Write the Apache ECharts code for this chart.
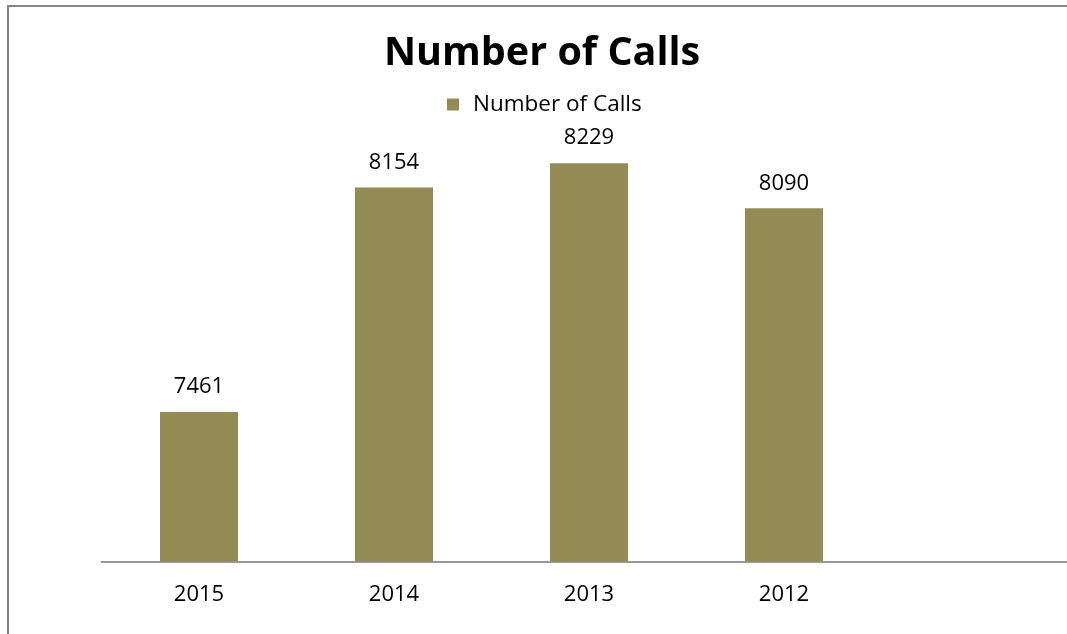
<!DOCTYPE html>
<html>
<head>
<meta charset="utf-8">
<script src="https://cdn.jsdelivr.net/npm/echarts@6/dist/echarts.min.js"></script>
<style>
html,body{margin:0;padding:0;background:#fff;overflow:hidden;}
#chart{width:1080px;height:634px;}
</style>
</head>
<body>
<div id="chart"></div>
<script>
const titleText = 'Number of Calls';
const seriesName = 'Number of Calls';
const categories = ['2015', '2014', '2013', '2012', ''];
const calls = [7461, 8154, 8229, 8090, null];
const yMin = 7000;
const yMax = 8400;

const chart = echarts.init(document.getElementById('chart'));
chart.setOption({
  animation: false,
  backgroundColor: '#ffffff',
  graphic: [{
    type: 'rect',
    shape: { x: 8, y: 6, width: 1200, height: 800 },
    style: { fill: 'none', stroke: '#868686', lineWidth: 2 },
    silent: true
  }],
  title: {
    text: titleText,
    left: 379,
    top: 29,
    textStyle: { fontFamily: 'Open Sans', fontWeight: 'bold', fontSize: 39.5, color: '#000' }
  },
  legend: {
    data: [seriesName],
    left: 447,
    top: 93,
    padding: 0,
    itemWidth: 12,
    itemHeight: 12,
    icon: 'rect',
    textStyle: { fontFamily: 'Open Sans', fontSize: 22.5, color: '#000', padding: [0, 0, 0, 9] }
  },
  grid: { left: 101.5, top: 107.8, width: 975, height: 453.7, containLabel: false },
  xAxis: {
    type: 'category',
    data: categories,
    axisLine: { show: true, lineStyle: { color: '#999', width: 2 } },
    axisTick: { show: false },
    axisLabel: { fontFamily: 'Open Sans', fontSize: 22, color: '#000', margin: 22 }
  },
  yAxis: {
    type: 'value',
    min: yMin,
    max: yMax,
    show: false,
    splitLine: { show: false }
  },
  series: [{
    name: seriesName,
    type: 'bar',
    data: calls,
    barWidth: '40%',
    itemStyle: { color: '#948A54' },
    label: {
      show: true,
      position: 'top',
      distance: 14,
      fontFamily: 'Open Sans',
      fontSize: 22,
      color: '#000'
    }
  }]
});
</script>
</body>
</html>
